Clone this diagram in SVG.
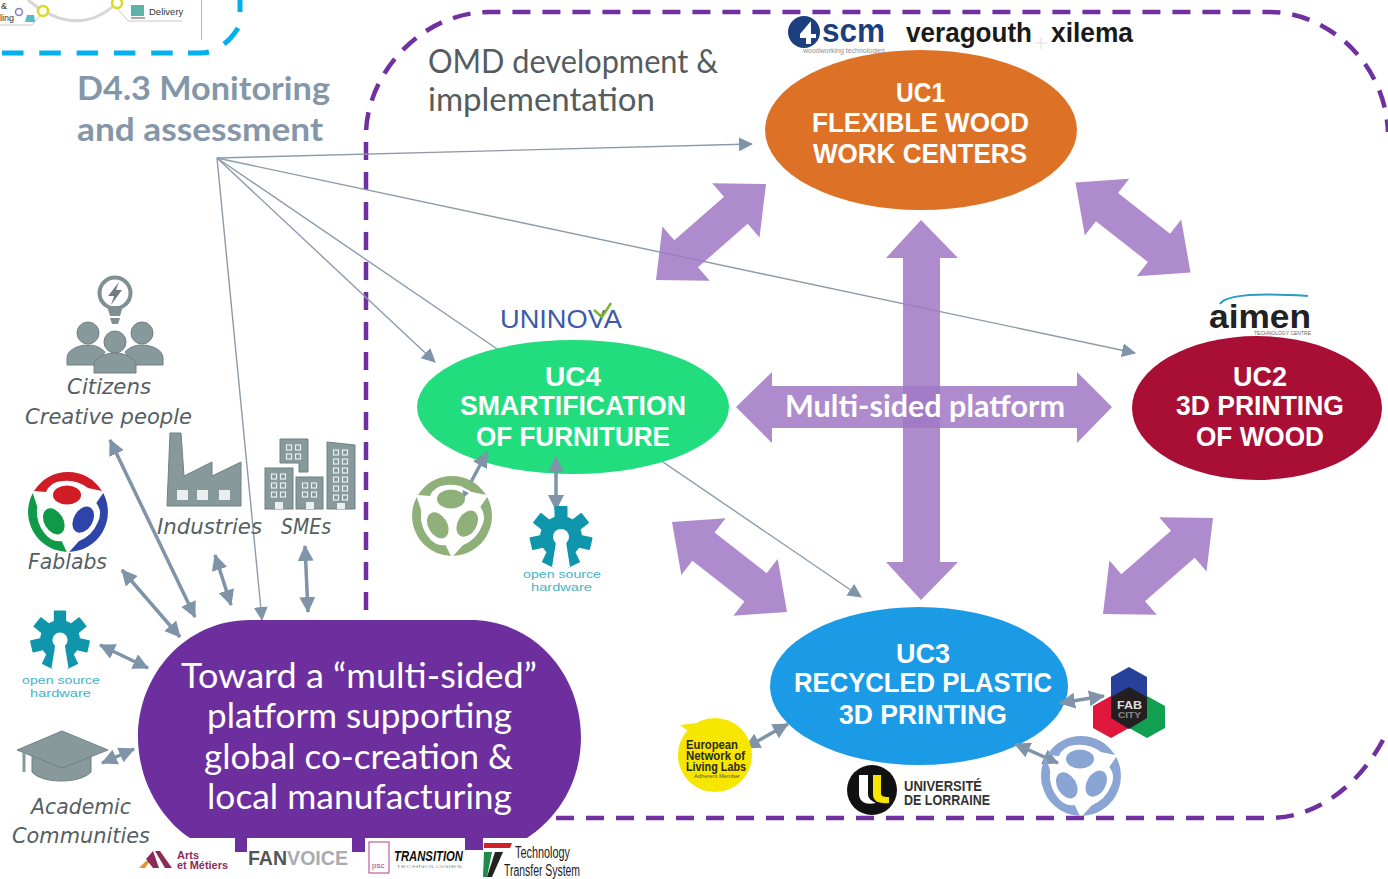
<svg xmlns="http://www.w3.org/2000/svg" width="1388" height="879" viewBox="0 0 1388 879">
<style>
.uc{font-family:"Liberation Sans",Arial,sans-serif;font-weight:700;font-size:27px;fill:#fff}
.main{font-family:"Lato","Open Sans",sans-serif;font-size:35px;fill:#fff}
.head{font-family:"Lato","Open Sans",sans-serif;font-size:33px;font-weight:700;fill:#8496a8}
.omd{font-family:"Lato","Open Sans",sans-serif;font-size:32px;fill:#555c60}
.lab{font-family:"DejaVu Sans",sans-serif;font-style:oblique;font-size:21px;fill:#555f62}
.osh{font-family:"Liberation Sans",Arial,sans-serif;font-size:11px;fill:#45b4c6}
.big{fill:#a077c4;fill-opacity:.85}
.thin{fill:none;stroke:#8c9bab;stroke-width:1.4}
.thick{fill:none;stroke:#7f94a8;stroke-width:3.5}
.ico{fill:#87999b;stroke:#6f8184;stroke-width:1}
.blk{font-family:"Liberation Sans",Arial,sans-serif;font-weight:700}
</style>
<defs>
<marker id="ah" viewBox="0 0 14 14" refX="13" refY="7" markerWidth="14" markerHeight="14" markerUnits="userSpaceOnUse" orient="auto"><path d="M0,0L14,7L0,14Z" fill="#7f94a8"/></marker>
<marker id="dh" viewBox="0 0 16 16" refX="15" refY="8" markerWidth="16" markerHeight="16" markerUnits="userSpaceOnUse" orient="auto-start-reverse"><path d="M0,0L16,8L0,16Z" fill="#7f94a8"/></marker>
<g id="fabpart">
<path d="M-34,-21A40,40 0 0 1 34,-21L20,-24Q8,-33 -6,-31Q-18,-30 -22,-20Z"/>
<ellipse cx="-1" cy="-17" rx="14" ry="9.500"/>
<path d="M-3,-29Q9,-31 20,-22" fill="none" stroke="#fff" stroke-width="2.500"/>
</g>
<g id="gear">
<circle r="21"/>
<g id="tooth"><rect x="-6.500" y="-31" width="13" height="14" rx="1"/></g>
<use href="#tooth" transform="rotate(51.4)"/><use href="#tooth" transform="rotate(102.9)"/><use href="#tooth" transform="rotate(154.3)"/>
<use href="#tooth" transform="rotate(-51.4)"/><use href="#tooth" transform="rotate(-102.9)"/><use href="#tooth" transform="rotate(-154.3)"/>
<circle r="8" fill="#fff"/>
<path d="M-5,5L-9,30H9L5,5Z" fill="#fff"/>
</g>
<pattern id="win" width="9" height="9" patternUnits="userSpaceOnUse"><rect x="1.500" y="2" width="5" height="5" fill="#87999b" stroke="#e8efef" stroke-width="1.200"/></pattern>
<path id="dbl" d="M-73,0L-33,-36L-33,-18L33,-18L33,-36L73,0L33,36L33,18L-33,18L-33,36Z"/>
</defs>

<rect width="1388" height="879" fill="#fff"/>

<g id="inset">
<path d="M28,0Q77,40 117,3" fill="none" stroke="#d6d6d6" stroke-width="3"/>
<path d="M0,25H32L40,16M117,8L128,21H182" fill="none" stroke="#c8c8c8" stroke-width="1"/>
<path d="M201.500,0V40" stroke="#b5b5b5" stroke-width="1"/>
<circle cx="43" cy="11" r="5" fill="#fff" stroke="#d8dc20" stroke-width="2.500"/>
<circle cx="117" cy="3" r="5" fill="#fff" stroke="#d8dc20" stroke-width="2.500"/>
<text x="1" y="9" font-family="Liberation Sans,sans-serif" font-size="9" fill="#333">&amp;</text>
<text x="0" y="21" font-family="Liberation Sans,sans-serif" font-size="9" fill="#333">ling</text>
<circle cx="19" cy="12" r="3.500" fill="none" stroke="#8a7cc8" stroke-width="1.500"/>
<path d="M25,22L27,15H34L35,22Z" fill="#5bb8c8"/>
<rect x="131" y="5" width="13" height="11" fill="#5cb3a8"/>
<path d="M131,18H145" stroke="#555" stroke-width="1"/>
<text x="149" y="15" font-family="Liberation Sans,sans-serif" font-size="9.500" fill="#333">Delivery</text>
<path d="M2,53H173" fill="none" stroke="#00b0f0" stroke-width="5" stroke-dasharray="21.500 15.800"/>
<path d="M188,53H200Q205,53 209,52M224,44Q232,38 238,28M240,12V0" fill="none" stroke="#00b0f0" stroke-width="5"/>
</g>

<g id="boundary" fill="none" stroke="#7030a0" stroke-width="4.500" stroke-dasharray="18 12">
<path d="M366,610V135C366,75 420,12 490,12H1270C1325,12 1385,60 1388,132"/>
<path d="M556,818H1270C1320,818 1365,780 1388,730"/>
</g>

<g id="connectors">
<path class="thin" d="M217,158L752,144" marker-end="url(#ah)"/>
<path class="thin" d="M217,158L1135,353" marker-end="url(#ah)"/>
<path class="thin" d="M217,158L435,362" marker-end="url(#ah)"/>
<path class="thin" d="M217,158L262,620" marker-end="url(#ah)"/>
<path class="thin" d="M217,158L861,597" marker-end="url(#ah)"/>
<g id="platform-arrows">
<use href="#dbl" class="big" transform="translate(711,232) rotate(-41.100)"/>
<use href="#dbl" class="big" transform="translate(1133,227.500) rotate(38)"/>
<use href="#dbl" class="big" transform="translate(729.500,567) rotate(38)"/>
<use href="#dbl" class="big" transform="translate(1158,566) rotate(-41.100)"/>
<path class="big" d="M921,220L958,258H940V562H958L921,600L886,562H903V258H886Z"/>
<path class="big" d="M736,407L772,372V386H1077V372L1112,407L1077,443V428H772V443Z"/>
</g>
</g>

<g id="uc1"><ellipse cx="921" cy="130" rx="156" ry="80" fill="#dd7226"/>
<text class="uc" x="896" y="102" textLength="49" lengthAdjust="spacingAndGlyphs">UC1</text>
<text class="uc" x="812" y="132" textLength="217" lengthAdjust="spacingAndGlyphs">FLEXIBLE WOOD</text>
<text class="uc" x="813" y="163" textLength="214" lengthAdjust="spacingAndGlyphs">WORK CENTERS</text></g>

<g id="uc4"><ellipse cx="573" cy="407" rx="156" ry="67" fill="#22dd7e"/>
<text class="uc" x="545" y="386" textLength="56" lengthAdjust="spacingAndGlyphs">UC4</text>
<text class="uc" x="460" y="415" textLength="226" lengthAdjust="spacingAndGlyphs">SMARTIFICATION</text>
<text class="uc" x="476" y="446" textLength="194" lengthAdjust="spacingAndGlyphs">OF FURNITURE</text></g>

<g id="uc2"><ellipse cx="1257" cy="408" rx="125" ry="72" fill="#a90f35"/>
<text class="uc" x="1233" y="386" textLength="54" lengthAdjust="spacingAndGlyphs">UC2</text>
<text class="uc" x="1176" y="415" textLength="168" lengthAdjust="spacingAndGlyphs">3D PRINTING</text>
<text class="uc" x="1196" y="446" textLength="128" lengthAdjust="spacingAndGlyphs">OF WOOD</text></g>

<g id="uc3"><ellipse cx="919" cy="686" rx="149" ry="79" fill="#1b9be6"/>
<text class="uc" x="896" y="663" textLength="54" lengthAdjust="spacingAndGlyphs">UC3</text>
<text class="uc" x="794" y="692" textLength="258" lengthAdjust="spacingAndGlyphs">RECYCLED PLASTIC</text>
<text class="uc" x="839" y="724" textLength="168" lengthAdjust="spacingAndGlyphs">3D PRINTING</text></g>

<text id="multi" x="785" y="417" font-family="Lato,sans-serif" font-size="30" font-weight="700" fill="#fff" textLength="280" lengthAdjust="spacingAndGlyphs">Multi-sided platform</text>

<g id="platform">
<path d="M250,620H470C535,620 581,675 581,737C581,785 555,820 527,838H483V850H465V838H365V852H352V838H247V852H235V838H190C165,822 138,785 138,737C138,675 185,620 250,620Z" fill="#6e2f9e"/>
<text class="main" x="181" y="688" textLength="356" lengthAdjust="spacingAndGlyphs">Toward a “multi-sided”</text>
<text class="main" x="207" y="728" textLength="305" lengthAdjust="spacingAndGlyphs">platform supporting</text>
<text class="main" x="204" y="769" textLength="309" lengthAdjust="spacingAndGlyphs">global co-creation &amp;</text>
<text class="main" x="207" y="809" textLength="305" lengthAdjust="spacingAndGlyphs">local manufacturing</text>
</g>

<g id="thick-connectors">
<path class="thick" d="M110,440L195,617" marker-start="url(#dh)" marker-end="url(#dh)"/>
<path class="thick" d="M122,570L180,637" marker-start="url(#dh)" marker-end="url(#dh)"/>
<path class="thick" d="M215,555L231,605" marker-start="url(#dh)" marker-end="url(#dh)"/>
<path class="thick" d="M305,546L308,612" marker-start="url(#dh)" marker-end="url(#dh)"/>
<path class="thick" d="M100,645L148,668" marker-start="url(#dh)" marker-end="url(#dh)"/>
<path class="thick" d="M102,763L134,749" marker-start="url(#dh)" marker-end="url(#dh)"/>
<path class="thick" d="M487,452L463,497" marker-start="url(#dh)" marker-end="url(#dh)"/>
<path class="thick" d="M556,457V510" marker-start="url(#dh)" marker-end="url(#dh)"/>
<path class="thick" d="M1060,703L1104,696" marker-start="url(#dh)" marker-end="url(#dh)"/>
<path class="thick" d="M1015,744L1058,763" marker-start="url(#dh)" marker-end="url(#dh)"/>
<path class="thick" d="M745,748L788,724" marker-start="url(#dh)" marker-end="url(#dh)"/>
</g>

<g id="heading">
<text class="head" x="77" y="100" textLength="253" lengthAdjust="spacingAndGlyphs">D4.3 Monitoring</text>
<text class="head" x="77" y="141" textLength="246" lengthAdjust="spacingAndGlyphs">and assessment</text>
</g>
<g id="omd">
<text class="omd" x="428" y="73" textLength="290" lengthAdjust="spacingAndGlyphs">OMD development &amp;</text>
<text class="omd" x="428" y="111" textLength="227" lengthAdjust="spacingAndGlyphs">implementation</text>
</g>

<g id="citizens">
<circle cx="115" cy="293" r="15.500" fill="none" stroke="#7f8f92" stroke-width="4"/>
<path d="M107,306L110,316H120L123,306ZM110,318H120L118,324H112Z" fill="#7f8f92"/>
<path d="M119,282L108,296H114L111,305L122,290H116Z" fill="#6f7d80"/>
<circle class="ico" cx="88" cy="333" r="11"/><circle class="ico" cx="142" cy="333" r="11"/>
<path class="ico" d="M67,365V358C67,350 78,345 88,345C96,345 101,348 105,352L96,365Z"/>
<path class="ico" d="M163,365V358C163,350 152,345 142,345C134,345 129,348 125,352L134,365Z"/>
<circle class="ico" cx="115" cy="342" r="11" stroke="#fff"/>
<path class="ico" d="M94,373V365C94,358 105,353 115,353C125,353 136,358 136,365V373Z"/>
<text class="lab" x="67" y="394" textLength="84" lengthAdjust="spacingAndGlyphs">Citizens</text>
<text class="lab" x="25" y="424" textLength="167" lengthAdjust="spacingAndGlyphs">Creative people</text>
</g>

<g id="industries">
<path class="ico" d="M167,506L170,433H181L184,476L212,462V476L241,462V506Z"/>
<rect x="177" y="490" width="11" height="10" fill="#e9efef"/><rect x="197" y="490" width="11" height="10" fill="#e9efef"/><rect x="219" y="490" width="11" height="10" fill="#e9efef"/>
<text class="lab" x="157" y="534" textLength="105" lengthAdjust="spacingAndGlyphs">Industries</text>
</g>

<g id="smes">
<path class="ico" d="M280,439H308V472H299V463H280Z"/>
<path class="ico" d="M327,442L355,445V509H327Z"/>
<rect class="ico" x="265" y="468" width="28" height="41"/>
<rect class="ico" x="296" y="477" width="27" height="32"/>
<rect width="18" height="18" fill="url(#win)" transform="translate(285,443)"/>
<rect width="18" height="54" fill="url(#win)" transform="translate(332,448)"/>
<rect width="18" height="27" fill="url(#win)" transform="translate(270,472)"/>
<rect width="18" height="18" fill="url(#win)" transform="translate(301,481)"/>
<path d="M275,509V502H283V509ZM306,509V502H314V509ZM337,509V503H345V509Z" fill="#e9efef"/>
<text class="lab" x="281" y="534" textLength="50" lengthAdjust="spacingAndGlyphs">SMEs</text>
</g>

<g id="fablabs">
<use href="#fabpart" fill="#d01c24" transform="translate(68,512)"/>
<use href="#fabpart" fill="#2f44a8" transform="translate(68,512) rotate(120)"/>
<use href="#fabpart" fill="#0f9a48" transform="translate(68,512) rotate(240)"/>
<text class="lab" x="28" y="569" textLength="79" lengthAdjust="spacingAndGlyphs">Fablabs</text>
</g>

<g id="oshw-left">
<use href="#gear" fill="#0f96ac" transform="translate(60,640) scale(.95)"/>
<text class="osh" x="22" y="684" textLength="78" lengthAdjust="spacingAndGlyphs">open source</text>
<text class="osh" x="30" y="697" textLength="61" lengthAdjust="spacingAndGlyphs">hardware</text>
</g>

<g id="academic">
<path class="ico" d="M32,755V772C42,784 80,784 91,772V755L62,768Z"/>
<path class="ico" d="M17,750L62,731L108,750L62,768Z"/>
<path d="M24,752V772" stroke="#87999b" stroke-width="3"/>
<text class="lab" x="31" y="814" textLength="100" lengthAdjust="spacingAndGlyphs">Academic</text>
<text class="lab" x="12" y="843" textLength="138" lengthAdjust="spacingAndGlyphs">Communities</text>
</g>

<g id="logo-scm">
<circle cx="804" cy="32" r="16" fill="#1d3f7d"/>
<path d="M800,34L811,21V34H816V38H811V44H806V38H800Z" fill="#fff"/>
<text class="blk" x="822" y="42" font-size="33" fill="#1d3f7d" textLength="63" lengthAdjust="spacingAndGlyphs">scm</text>
<text x="803" y="53" font-family="Liberation Sans,sans-serif" font-size="7" fill="#8a8f98" textLength="82" lengthAdjust="spacingAndGlyphs">woodworking technologies</text>
</g>
<g id="logo-veragouth"><text class="blk" x="906" y="42" font-size="27" fill="#1a1a1a" textLength="126" lengthAdjust="spacingAndGlyphs">veragouth</text></g>
<path id="logo-cross" d="M1041,37V49M1035,43H1047" stroke="#ddd" stroke-width="1"/>
<g id="logo-xilema"><text class="blk" x="1051" y="42" font-size="27" fill="#1a1a1a" textLength="82" lengthAdjust="spacingAndGlyphs">xilema</text></g>

<g id="logo-uninova">
<text x="500" y="328" font-family="Liberation Sans,sans-serif" font-size="25" fill="#3d5aa8" textLength="122" lengthAdjust="spacingAndGlyphs">UNINOVA</text>
<path d="M594,310L602,317L611,303" fill="none" stroke="#7cb82f" stroke-width="2.500"/>
</g>

<g id="logo-aimen">
<path d="M1220,304C1226,294 1262,293 1308,296" fill="none" stroke="#2a9cc4" stroke-width="2"/>
<text class="blk" x="1209" y="328" font-size="34" fill="#222" textLength="102" lengthAdjust="spacingAndGlyphs">aimen</text>
<text x="1254" y="335" font-family="Liberation Sans,sans-serif" font-size="6" fill="#666" textLength="57" lengthAdjust="spacingAndGlyphs">TECHNOLOGY CENTRE</text>
</g>

<g id="fablab-green">
<use href="#fabpart" fill="#8fb078" transform="translate(452,516)"/>
<use href="#fabpart" fill="#8fb078" transform="translate(452,516) rotate(120)"/>
<use href="#fabpart" fill="#8fb078" transform="translate(452,516) rotate(240)"/>
</g>

<g id="oshw-mid">
<use href="#gear" fill="#0f96ac" transform="translate(561,537)"/>
<text class="osh" x="523" y="578" textLength="78" lengthAdjust="spacingAndGlyphs">open source</text>
<text class="osh" x="531" y="591" textLength="61" lengthAdjust="spacingAndGlyphs">hardware</text>
</g>

<g id="logo-enoll">
<path d="M680,725L705,722L700,740Z" fill="#f7e600"/>
<circle cx="715" cy="755" r="37" fill="#f7e600"/>
<g class="blk" font-size="12" fill="#2a2a1a">
<text x="686" y="749" textLength="52" lengthAdjust="spacingAndGlyphs">European</text>
<text x="686" y="760" textLength="59" lengthAdjust="spacingAndGlyphs">Network of</text>
<text x="686" y="771" textLength="60" lengthAdjust="spacingAndGlyphs">Living Labs</text>
</g>
<text x="694" y="778" font-family="Liberation Sans,sans-serif" font-size="5" fill="#555" textLength="46" lengthAdjust="spacingAndGlyphs">Adherent Member</text>
</g>

<g id="logo-fabcity">
<path d="M1129,667L1147,677V699L1129,709L1111,699V677Z" fill="#27409a"/>
<path d="M1111,696L1129,706V728L1111,738L1093,728V706Z" fill="#e0163c"/>
<path d="M1147,696L1165,706V728L1147,738L1129,728V706Z" fill="#12a050"/>
<path d="M1129,687L1147,697V718L1129,729L1111,718V697Z" fill="#231f20"/>
<text class="blk" x="1117" y="709" font-size="11" fill="#ddd" textLength="25" lengthAdjust="spacingAndGlyphs">FAB</text>
<text class="blk" x="1118" y="718" font-size="9" fill="#888" textLength="23" lengthAdjust="spacingAndGlyphs">CITY</text>
</g>

<g id="fablab-blue">
<use href="#fabpart" fill="#8aa5d4" transform="translate(1081,776)"/>
<use href="#fabpart" fill="#8aa5d4" transform="translate(1081,776) rotate(120)"/>
<use href="#fabpart" fill="#8aa5d4" transform="translate(1081,776) rotate(240)"/>
</g>

<g id="logo-lorraine">
<circle cx="872" cy="790" r="25" fill="#111"/>
<path d="M859,775H868V794C868,799 872,801 876,803C864,806 859,800 859,794Z" fill="#fff"/>
<path d="M873,775H881V793C881,796 883,797 889,797V803C878,804 873,801 873,794Z" fill="#f5e400"/>
<text class="blk" x="904" y="791" font-size="15" fill="#333" textLength="78" lengthAdjust="spacingAndGlyphs">UNIVERSITÉ</text>
<text class="blk" x="904" y="805" font-size="15" fill="#333" textLength="86" lengthAdjust="spacingAndGlyphs">DE LORRAINE</text>
</g>

<g id="logo-arts">
<path d="M139,868L146,861L150,861L145,868Z" fill="#e8962a"/>
<path d="M146,859L153,851L159,868H153ZM155,851H160L172,868H165Z" fill="#8e2a5b"/>
<text x="177" y="859" font-family="Liberation Sans,sans-serif" font-size="11" font-weight="700" fill="#8e2a5b">Arts</text>
<text x="177" y="869" font-family="Liberation Sans,sans-serif" font-size="11" font-weight="700" fill="#8e2a5b" textLength="51" lengthAdjust="spacingAndGlyphs">et Métiers</text>
</g>
<g id="logo-fanvoice"><text class="blk" x="248" y="865" font-size="20" fill="#555" textLength="100" lengthAdjust="spacingAndGlyphs">FAN<tspan fill="#a8abb0">VOICE</tspan></text></g>
<g id="logo-transition">
<rect x="369" y="842" width="20" height="31" fill="#fff" stroke="#b0408a" stroke-width="1"/>
<text x="372" y="868" font-family="Liberation Sans,sans-serif" font-size="8" fill="#b0408a">psc</text>
<text class="blk" x="394" y="861" font-size="14" font-style="italic" fill="#111" textLength="69" lengthAdjust="spacingAndGlyphs">TRANSITION</text>
<text x="396" y="868" font-family="Liberation Sans,sans-serif" font-size="4" fill="#999" textLength="66" lengthAdjust="spacingAndGlyphs">TECHNOLOGIES</text>
</g>
<g id="logo-tts">
<path d="M484,843H512L510,848H484Z" fill="#d0202a"/>
<path d="M484,852H492L487,877H483Z" fill="#1f8a4a"/>
<path d="M495,852H503L492,877H487Z" fill="#222"/>
<text x="515" y="858" font-family="Liberation Sans,sans-serif" font-size="16" fill="#222" textLength="55" lengthAdjust="spacingAndGlyphs">Technology</text>
<text x="504" y="876" font-family="Liberation Sans,sans-serif" font-size="16" fill="#222" textLength="76" lengthAdjust="spacingAndGlyphs">Transfer System</text>
</g>
</svg>
